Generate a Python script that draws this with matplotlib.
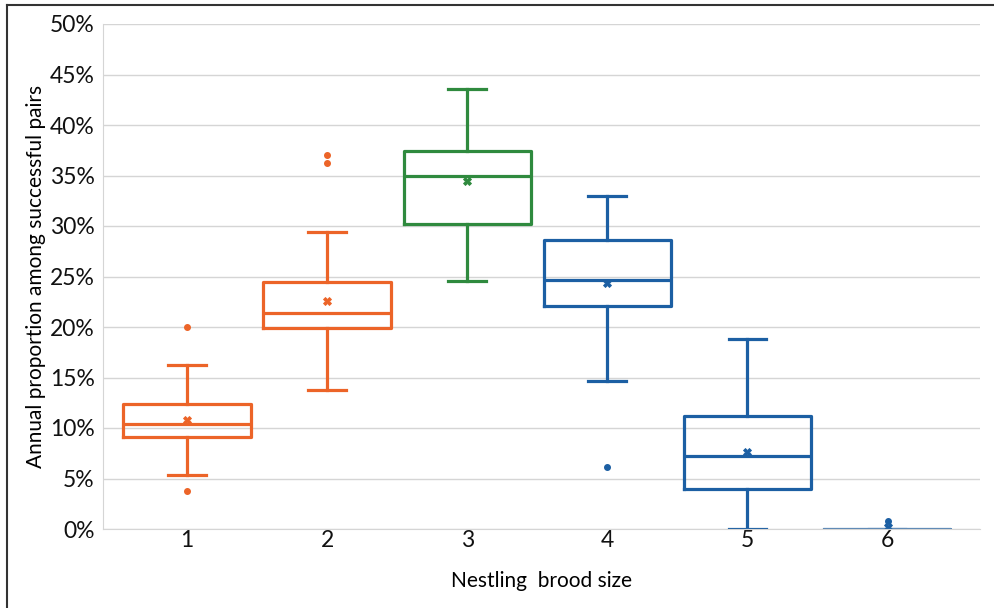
import matplotlib
matplotlib.use("Agg")
import matplotlib.pyplot as plt
from matplotlib.lines import Line2D
from matplotlib.ticker import PercentFormatter

# valeurs (en %)
brood_size = [1, 2, 3, 4, 5, 6]
q1 = [9.1, 19.9, 30.2, 22.1, 4.0, 0.0]
median = [10.4, 21.4, 34.95, 24.7, 7.25, 0.0]
q3 = [12.4, 24.5, 37.4, 28.6, 11.2, 0.0]
whisker_low = [5.35, 13.8, 24.6, 14.7, 0.0, 0.0]
whisker_high = [16.2, 29.4, 43.6, 33.0, 18.8, 0.0]
mean = [10.8, 22.6, 34.45, 24.4, 7.65, 0.17]
outliers = [[20.0, 3.75], [37.0, 36.2], [], [6.1], [], [0.82]]
colors = ["#EC6428", "#EC6428", "#2F8A3E", "#1C5FA3", "#1C5FA3", "#5B87B5"]

fig = plt.figure(figsize=(9.95, 6.08), dpi=100)
ax = fig.add_axes([103 / 995, 79 / 608, 877 / 995, 505 / 608])

for i, pos in enumerate(brood_size):
    stats = [{
        "med": median[i], "q1": q1[i], "q3": q3[i],
        "whislo": whisker_low[i], "whishi": whisker_high[i],
        "mean": mean[i], "fliers": outliers[i],
    }]
    c = colors[i]
    lw = 1.5 if i == 5 else 2.3
    mc = "#1C5FA3" if i == 5 else c
    ax.bxp(stats, positions=[pos], widths=0.91, showmeans=True,
           capwidths=0.27, manage_ticks=False,
           boxprops=dict(color=c, linewidth=lw),
           medianprops=dict(color=c, linewidth=lw),
           whiskerprops=dict(color=c, linewidth=lw),
           capprops=dict(color=c, linewidth=lw),
           meanprops=dict(marker="X", markerfacecolor=mc, markeredgecolor=mc,
                          markersize=5.5, markeredgewidth=0.6),
           flierprops=dict(marker="o", markerfacecolor=mc, markeredgecolor=mc,
                           markersize=4))

ax.set_xlim(0.4, 6.66)
ax.set_ylim(0, 50)
ax.set_xticks(brood_size)
ax.set_yticks(range(0, 51, 5))
ax.yaxis.set_major_formatter(PercentFormatter(decimals=0))
ax.grid(axis="y", color="#D5D5D5", linewidth=1)
ax.set_axisbelow(True)
for s in ["top", "right"]:
    ax.spines[s].set_visible(False)
ax.spines["left"].set_color("#D5D5D5")
ax.spines["bottom"].set_color("#D5D5D5")
ax.tick_params(length=0, labelsize=16.5, colors="#111111")
ax.tick_params(axis="x", pad=1)
ax.tick_params(axis="y", pad=6)
for lab in ax.get_xticklabels() + ax.get_yticklabels():
    lab.set_family("Lato")

ax.set_xlabel("Nestling  brood size", fontsize=15, family="Lato", labelpad=14)
ax.set_ylabel("Annual proportion among successful pairs", fontsize=15,
              family="Lato", labelpad=3)

# cadre autour de la figure
fig.add_artist(Line2D([7 / 995, 1], [1 - 5 / 608, 1 - 5 / 608], color="#333333", lw=1.5))
fig.add_artist(Line2D([7 / 995, 7 / 995], [0, 1 - 5 / 608], color="#333333", lw=1.5))

fig.savefig("out.png", dpi=100)
